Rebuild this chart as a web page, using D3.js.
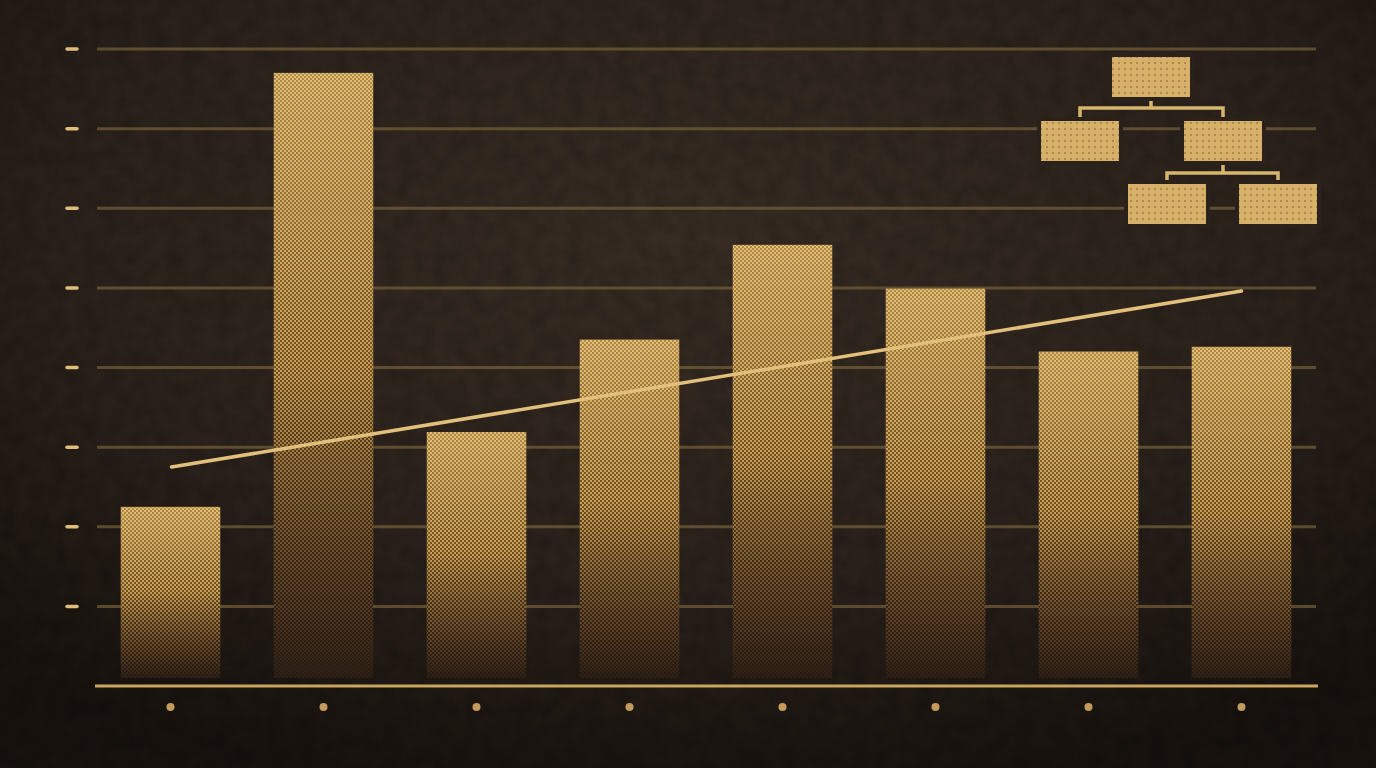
<!DOCTYPE html>
<html><head><meta charset="utf-8">
<script src="https://cdn.jsdelivr.net/npm/d3@7"></script>
<style>html,body{margin:0;padding:0;background:#241c16;overflow:hidden}svg{display:block}</style>
</head><body>
<svg id="chart" width="1376" height="768"></svg>
<script>
// ---- data ----
const categories = ["1", "2", "3", "4", "5", "6", "7", "8"];
const values = [2.25, 7.70, 3.19, 4.35, 5.54, 4.99, 4.20, 4.26];
const trendStart = 2.75;
const trendEnd = 4.96;
const yTicks = [1, 2, 3, 4, 5, 6, 7, 8];

const W = 1376, H = 768;
const svg = d3.select("#chart");
const defs = svg.append("defs");

// background gradient
const bg = defs.append("radialGradient").attr("id", "bg").attr("cx", "50%").attr("cy", "30%").attr("r", "75%");
bg.append("stop").attr("offset", "0%").attr("stop-color", "#372c23");
bg.append("stop").attr("offset", "60%").attr("stop-color", "#2a211b");
bg.append("stop").attr("offset", "100%").attr("stop-color", "#17120e");

// paper noise
const f = defs.append("filter").attr("id", "noise").attr("x", 0).attr("y", 0).attr("width", "100%").attr("height", "100%");
f.append("feTurbulence").attr("type", "fractalNoise").attr("baseFrequency", 0.06).attr("numOctaves", 3).attr("seed", 4);
f.append("feColorMatrix").attr("type", "matrix").attr("values", "0 0 0 0 0  0 0 0 0 0  0 0 0 0 0  0 0 0 0.9 -0.3");
f.append("feComposite").attr("in2", "SourceGraphic").attr("operator", "in");

// bar gradient (gold top fading toward the bottom)
const bgGrad = defs.append("linearGradient").attr("id", "barGrad").attr("x1", 0).attr("y1", 0).attr("x2", 0).attr("y2", 1);
bgGrad.append("stop").attr("offset", "0%").attr("stop-color", "#e6bd6e");
bgGrad.append("stop").attr("offset", "50%").attr("stop-color", "#c99c4e");
bgGrad.append("stop").attr("offset", "82%").attr("stop-color", "#66492a");
bgGrad.append("stop").attr("offset", "100%").attr("stop-color", "#2a2018");

// halftone dot pattern
const pat = defs.append("pattern").attr("id", "dots").attr("width", 4).attr("height", 4).attr("patternUnits", "userSpaceOnUse");
pat.append("rect").attr("x", 0).attr("y", 0).attr("width", 2).attr("height", 2).attr("fill", "#2a1a0e");
pat.append("rect").attr("x", 2).attr("y", 2).attr("width", 2).attr("height", 2).attr("fill", "#2a1a0e");

// box texture
const pat2 = defs.append("pattern").attr("id", "dots2").attr("width", 6).attr("height", 6).attr("patternUnits", "userSpaceOnUse");
pat2.append("circle").attr("cx", 3).attr("cy", 3).attr("r", 1).attr("fill", "#7a5a2a");

svg.append("rect").attr("width", W).attr("height", H).attr("fill", "url(#bg)");
svg.append("rect").attr("width", W).attr("height", H).attr("fill", "#000").attr("filter", "url(#noise)").attr("opacity", 0.35);

// ---- scales ----
const x = d3.scaleBand().domain(categories).range([94, 1318]).paddingInner(0.35).paddingOuter(0.175);
const y = d3.scaleLinear().domain([0, 8]).range([686, 49]);

// gridlines
svg.append("g").selectAll("line").data(yTicks).join("line")
  .attr("x1", 97).attr("x2", 1316)
  .attr("y1", d => y(d)).attr("y2", d => y(d))
  .attr("stroke", "#75603a").attr("stroke-width", 3).attr("opacity", 0.7);

// tick dashes
svg.append("g").selectAll("line").data(yTicks).join("line")
  .attr("x1", 67).attr("x2", 77)
  .attr("y1", d => y(d)).attr("y2", d => y(d))
  .attr("stroke", "#e0bd78").attr("stroke-width", 3.5).attr("stroke-linecap", "round");

// bars
const bars = svg.append("g");
bars.selectAll("rect.b").data(values).join("rect").attr("class", "b")
  .attr("x", (d, i) => x(categories[i])).attr("width", x.bandwidth())
  .attr("y", d => y(d)).attr("height", d => y(0) - 8 - y(d))
  .attr("fill", "url(#barGrad)");
// halftone overlay with increasing density toward the bottom
const hg = defs.append("linearGradient").attr("id", "hgMask").attr("x1", 0).attr("y1", 0).attr("x2", 0).attr("y2", 1);
hg.append("stop").attr("offset", "0%").attr("stop-color", "#fff").attr("stop-opacity", 0.3);
hg.append("stop").attr("offset", "100%").attr("stop-color", "#fff").attr("stop-opacity", 0.9);
const mask = defs.append("mask").attr("id", "htMask").attr("maskContentUnits", "objectBoundingBox");
mask.append("rect").attr("width", 1).attr("height", 1).attr("fill", "url(#hgMask)");
bars.selectAll("rect.h").data(values).join("rect").attr("class", "h")
  .attr("x", (d, i) => x(categories[i])).attr("width", x.bandwidth())
  .attr("y", d => y(d)).attr("height", d => y(0) - 8 - y(d))
  .attr("fill", "url(#dots)").attr("mask", "url(#htMask)");

// baseline
svg.append("line").attr("x1", 95).attr("x2", 1318).attr("y1", y(0)).attr("y2", y(0))
  .attr("stroke", "#c9a560").attr("stroke-width", 3);

// category dots
svg.append("g").selectAll("circle").data(categories).join("circle")
  .attr("cx", d => x(d) + x.bandwidth() / 2).attr("cy", 707).attr("r", 4)
  .attr("fill", "#c39a5a");

// trend line
const first = categories[0], last = categories[categories.length - 1];
svg.append("line")
  .attr("x1", x(first) + x.bandwidth() / 2 + 1).attr("y1", y(trendStart))
  .attr("x2", x(last) + x.bandwidth() / 2).attr("y2", y(trendEnd))
  .attr("stroke", "#e2c07c").attr("stroke-width", 3.5).attr("stroke-linecap", "round");

// org chart icon
const org = svg.append("g");
const boxes = [
  [1112, 57], [1041, 121], [1184, 121], [1128, 184], [1239, 184]
];
const bw = 78, bh = 40;
const conn = "#d6b56f";
const path = d3.path();
path.moveTo(1151, 98); path.lineTo(1151, 108);
path.moveTo(1080, 121); path.lineTo(1080, 108); path.lineTo(1223, 108); path.lineTo(1223, 121);
path.moveTo(1223, 161); path.lineTo(1223, 173);
path.moveTo(1167, 184); path.lineTo(1167, 173); path.lineTo(1278, 173); path.lineTo(1278, 184);
org.append("path").attr("d", path.toString()).attr("fill", "none").attr("stroke", conn).attr("stroke-width", 3.5);
org.selectAll("rect.o").data(boxes).join("rect").attr("class", "o")
  .attr("x", d => d[0]).attr("y", d => d[1]).attr("width", bw).attr("height", bh)
  .attr("fill", "#d6b068").attr("stroke", "#2a211b").attr("stroke-width", 8).attr("paint-order", "stroke");
org.selectAll("rect.t").data(boxes).join("rect").attr("class", "t")
  .attr("x", d => d[0]).attr("y", d => d[1]).attr("width", bw).attr("height", bh)
  .attr("fill", "url(#dots2)").attr("opacity", 0.6);
</script>
</body></html>
